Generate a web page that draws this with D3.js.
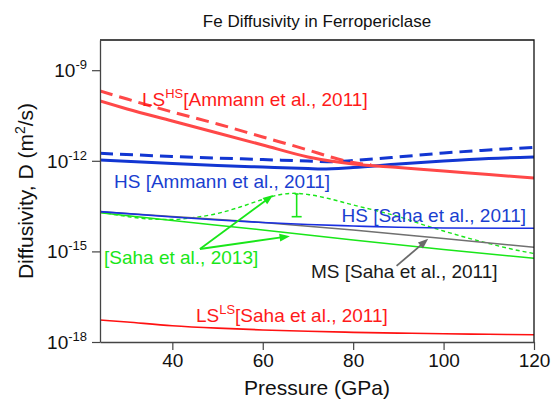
<!DOCTYPE html>
<html>
<head>
<meta charset="utf-8">
<script src="https://cdn.jsdelivr.net/npm/d3@7"></script>
<style>
  html, body { margin: 0; padding: 0; background: #fff; }
  svg { display: block; font-family: "Liberation Sans", Arial, Helvetica, sans-serif; }
</style>
</head>
<body>
<svg id="chart" width="551" height="405"></svg>
<script>
// Pressure grid (GPa) and diffusivity (m^2/s) for each curve
const pAmmann = [24, 30, 40, 50, 60, 70, 75, 80, 90, 100, 110, 120];
const lsHsAmmannSolid = [9.55e-11, 5.19e-11, 2.08e-11, 8.33e-12, 3.34e-12, 1.34e-12, 9.85e-13, 7.83e-13, 6.00e-13, 4.59e-13, 3.52e-13, 2.69e-13];

const pLsHsDashed = [24, 30, 40, 50, 60, 70, 75, 80, 84];
const lsHsAmmannDashed = [2.05e-10, 1.11e-10, 4.13e-11, 1.66e-11, 6.14e-12, 2.28e-12, 1.34e-12, 8.79e-13, 7.26e-13];

const pHsAmmannSolid = [24, 40, 50, 60, 70, 73, 80, 90, 100, 110, 120];
const hsAmmannSolid = [1.06e-12, 8.14e-13, 6.99e-13, 6.23e-13, 5.56e-13, 5.35e-13, 6.00e-13, 7.83e-13, 9.85e-13, 1.19e-12, 1.34e-12];

const pHsAmmannDashed = [24, 40, 60, 70, 76, 80, 90, 100, 110, 120];
const hsAmmannDashed = [1.77e-12, 1.39e-12, 1.10e-12, 9.85e-13, 9.33e-13, 1.02e-12, 1.34e-12, 1.81e-12, 2.28e-12, 2.80e-12];

const pHsSaha = [24, 40, 50, 60, 70, 80, 90, 100, 120];
const hsSaha2011 = [2.07e-14, 1.38e-14, 1.10e-14, 9.06e-15, 7.78e-15, 6.94e-15, 6.28e-15, 5.96e-15, 5.82e-15];

const pMsSaha = [24, 40, 60, 80, 100, 120];
const msSaha2011 = [2.07e-14, 1.43e-14, 9.06e-15, 5.12e-15, 2.67e-15, 1.37e-15];

const pSaha2013 = [24, 40, 60, 80, 100, 120];
const saha2013Solid = [1.91e-14, 1.05e-14, 5.12e-15, 2.38e-15, 1.16e-15, 5.91e-16];

const pSaha2013Dotted = [24, 30, 35, 40, 45, 50, 55, 60, 64, 67, 70, 75, 80, 85, 90, 95, 100, 105, 110, 115, 120];
const saha2013Dotted = [2.02e-14, 1.43e-14, 1.18e-14, 1.14e-14, 1.33e-14, 1.80e-14, 2.95e-14, 5.24e-14, 7.66e-14, 8.39e-14, 7.66e-14, 5.43e-14, 3.44e-14, 2.26e-14, 1.43e-14, 8.07e-15, 4.73e-15, 2.88e-15, 1.83e-15, 1.20e-15, 8.51e-16];

const pLsSaha = [24, 30, 40, 50, 60, 70, 80, 90, 100, 110, 120];
const lsLsSaha2011 = [5.37e-18, 4.57e-18, 3.47e-18, 2.88e-18, 2.51e-18, 2.26e-18, 2.09e-18, 1.97e-18, 1.88e-18, 1.80e-18, 1.74e-18];

// Error bar on the 2013 curve: pressure, low, high
const errorBar = [67.5, 1.41e-14, 7.96e-14];

// Axis ticks
const xTicks = [40, 60, 80, 100, 120];
const yTickExponents = [-18, -15, -12, -9];

const svg = d3.select("#chart");
const margin = { left: 100, right: 17, top: 40, bottom: 63 };
const W = 551, H = 405;

const x = d3.scaleLinear().domain([24, 120]).range([margin.left, W - margin.right]);
const y = d3.scaleLog().domain([1e-18, 1e-8]).range([H - margin.bottom, margin.top]);

const RED = "#ff4848", RED_TXT = "#ff1a1a", RED_THIN = "#ff1111";
const BLUE = "#1236d2", BLUE_TXT = "#1a3fd0", BLUE_THIN = "#1a2fe0";
const GREEN = "#19e619", GRAY = "#707070";

const line = d3.line().x(d => x(d[0])).y(d => y(d[1])).curve(d3.curveMonotoneX);
const pairs = (ps, vs) => ps.map((p, i) => [p, vs[i]]);

const plot = svg.append("g");
plot.append("defs").append("clipPath").attr("id", "clip")
  .append("rect").attr("x", margin.left).attr("y", margin.top)
  .attr("width", W - margin.left - margin.right).attr("height", H - margin.top - margin.bottom);

const curves = plot.append("g").attr("clip-path", "url(#clip)").attr("fill", "none");

function drawCurve(ps, vs, color, width, dash) {
  curves.append("path")
    .attr("d", line(pairs(ps, vs)))
    .attr("stroke", color)
    .attr("stroke-width", width)
    .attr("stroke-dasharray", dash || null);
}

drawCurve(pLsSaha, lsLsSaha2011, RED_THIN, 1.6);
drawCurve(pSaha2013Dotted, saha2013Dotted, GREEN, 1.4, "4,3");
drawCurve(pSaha2013, saha2013Solid, GREEN, 1.6);
drawCurve(pMsSaha, msSaha2011, GRAY, 1.6);
drawCurve(pHsSaha, hsSaha2011, BLUE_THIN, 1.6);
drawCurve(pHsAmmannDashed, hsAmmannDashed, BLUE, 3, "13,7");
drawCurve(pHsAmmannSolid, hsAmmannSolid, BLUE, 3);
drawCurve(pAmmann, lsHsAmmannSolid, RED, 3);
drawCurve(pLsHsDashed, lsHsAmmannDashed, RED, 3, "13,7");

// Error bar
const eb = plot.append("g").attr("stroke", GREEN).attr("stroke-width", 1.6);
eb.append("line").attr("x1", x(errorBar[0])).attr("x2", x(errorBar[0]))
  .attr("y1", y(errorBar[1])).attr("y2", y(errorBar[2]));
eb.append("line").attr("x1", x(errorBar[0]) - 5).attr("x2", x(errorBar[0]) + 5)
  .attr("y1", y(errorBar[1])).attr("y2", y(errorBar[1]));
eb.append("line").attr("x1", x(errorBar[0]) - 2).attr("x2", x(errorBar[0]) + 2)
  .attr("y1", y(errorBar[2])).attr("y2", y(errorBar[2]));

// Arrows
function arrow(p0, d0, p1, d1, color) {
  const x0 = x(p0), y0 = y(d0), x1 = x(p1), y1 = y(d1);
  const a = Math.atan2(y1 - y0, x1 - x0);
  const L = 11, w = 0.36;
  plot.append("line").attr("x1", x0).attr("y1", y0)
    .attr("x2", x1 - Math.cos(a) * L * 0.8).attr("y2", y1 - Math.sin(a) * L * 0.8)
    .attr("stroke", color).attr("stroke-width", 1.8);
  plot.append("path")
    .attr("d", `M${x1},${y1}L${x1 - L * Math.cos(a - w)},${y1 - L * Math.sin(a - w)}L${x1 - L * Math.cos(a + w)},${y1 - L * Math.sin(a + w)}Z`)
    .attr("fill", color);
}
arrow(46.1, 1.2e-15, 62.3, 7.4e-14, GREEN);
arrow(46.1, 1.2e-15, 66.0, 3.2e-15, GREEN);
arrow(89.6, 3.3e-16, 96.6, 2.6e-15, "#6a6a6a");

// Frame and axes
const frame = svg.append("g").attr("fill", "none");
frame.append("path")
  .attr("d", `M${x(24)},${y(1e-8)}H${x(120)}V${y(1e-18)}`)
  .attr("stroke", "#111").attr("stroke-width", 1.3);

const xAxis = d3.axisBottom(x).tickValues(xTicks).tickSize(8).tickSizeOuter(0).tickFormat(d3.format("d"));
const gx = svg.append("g").attr("transform", `translate(0,${y(1e-18)})`).call(xAxis);
gx.select(".domain").attr("stroke", "#444").attr("stroke-width", 1.3);
gx.selectAll(".tick line").attr("stroke", "#444").attr("stroke-width", 1.2);
gx.selectAll(".tick text").attr("font-size", 19).attr("fill", "#111")
  .attr("font-family", "Liberation Sans, Arial, sans-serif").attr("y", 12).attr("dy", "0.71em");

const yAxis = d3.axisLeft(y).tickValues(yTickExponents.map(e => Math.pow(10, e))).tickSize(8).tickSizeOuter(0).tickFormat("");
const gy = svg.append("g").attr("transform", `translate(${x(24)},0)`).call(yAxis);
gy.select(".domain").attr("stroke", "#444").attr("stroke-width", 1.3);
gy.selectAll(".tick line").attr("stroke", "#444").attr("stroke-width", 1.2);

// Tick labels with superscript exponents
yTickExponents.forEach(e => {
  const t = svg.append("text").attr("x", x(24) - 13).attr("y", y(Math.pow(10, e)) + 7)
    .attr("text-anchor", "end").attr("fill", "#111").attr("font-size", 19);
  t.append("tspan").text("10");
  t.append("tspan").attr("dy", -8).attr("font-size", 13).text(String(e));
});

// Rich text helper: parts are [text, isSuperscript]
function richText(px, py, parts, opts) {
  const t = svg.append("text").attr("x", px).attr("y", py)
    .attr("fill", opts.color).attr("font-size", opts.size)
    .attr("text-anchor", opts.anchor || "start");
  let raised = false;
  parts.forEach(([s, sup]) => {
    const ts = t.append("tspan").text(s);
    if (sup && !raised) { ts.attr("dy", -opts.size * 0.42).attr("font-size", opts.size * 0.68); raised = true; }
    else if (!sup && raised) { ts.attr("dy", opts.size * 0.42); raised = false; }
  });
  return t;
}

// Title and axis titles
svg.append("text").attr("x", (x(24) + x(120)) / 2).attr("y", 27)
  .attr("text-anchor", "middle").attr("font-size", 17).attr("fill", "#111")
  .text("Fe Diffusivity in Ferropericlase");

svg.append("text").attr("x", (x(24) + x(120)) / 2).attr("y", 395)
  .attr("text-anchor", "middle").attr("font-size", 21).attr("fill", "#111")
  .text("Pressure (GPa)");

const yl = svg.append("text").attr("transform", `translate(33,${(y(1e-8) + y(1e-18)) / 2}) rotate(-90)`)
  .attr("text-anchor", "middle").attr("font-size", 21).attr("fill", "#111");
yl.append("tspan").text("Diffusivity, D (m");
yl.append("tspan").attr("dy", -8).attr("font-size", 14).text("2");
yl.append("tspan").attr("dy", 8).text("/s)");

// Curve annotations
richText(142, 106, [["LS", false], ["HS", true], ["[Ammann et al., 2011]", false]], { color: RED_TXT, size: 19 });
richText(114, 188, [["HS [Ammann et al., 2011]", false]], { color: BLUE_TXT, size: 19 });
richText(526, 222, [["HS [Saha et al., 2011]", false]], { color: BLUE_TXT, size: 19, anchor: "end" });
richText(104, 264, [["[Saha et al., 2013]", false]], { color: GREEN, size: 19 });
richText(311, 278, [["MS [Saha et al., 2011]", false]], { color: "#1a1a1a", size: 19 });
richText(196, 322, [["LS", false], ["LS", true], ["[Saha et al., 2011]", false]], { color: RED_TXT, size: 19 });
</script>
</body>
</html>
